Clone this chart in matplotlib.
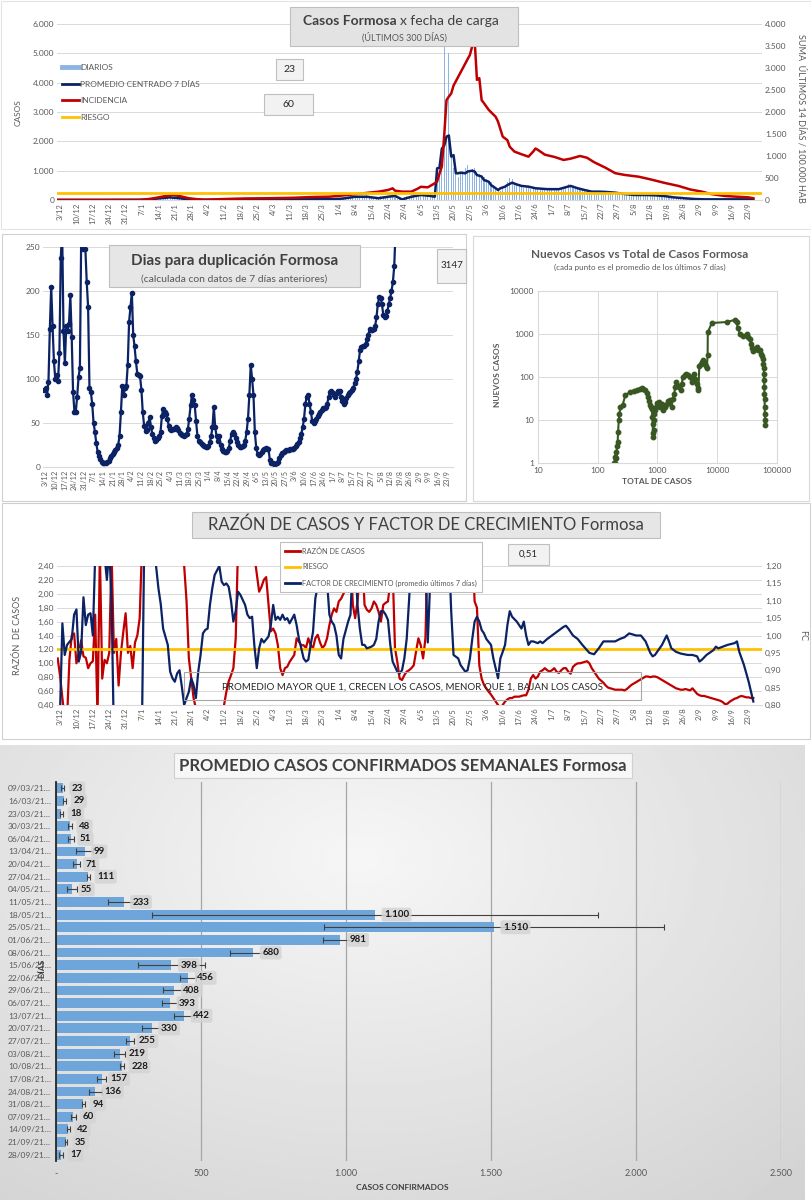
import datetime as dt
import numpy as np
import matplotlib
matplotlib.use("Agg")
import matplotlib.pyplot as plt
from matplotlib.patches import Rectangle
from matplotlib.lines import Line2D

plt.rcParams['font.family'] = ['Lato', 'DejaVu Sans']

# ---------------- DATA ----------------
START = dt.date(2020, 12, 2)          # día 0
TICK_DIAS = list(range(1, 296, 7))    # 3/12 ... 23/9

DIARIOS = [3,2,4,5,3,2,6,4,3,5, 2,3,4,6,5,3,2,4,3,5, 4,2,3,5,6,4,3,2,5,4,
           3,6,8,5,4,10,15,20,25,30,
           40,55,60,75,80,95,90,110,100,85,90,70,60,45,30,25,20,15,12,10,
           8,10,12,9,11,14,10,13,15,12, 14,16,13,15,18,14,16,19,15,17,
           18,20,16,22,19,17,21,24,20,18, 22,25,21,19,24,26,22,28,25,23,
           26,30,24,28,32,27,30,35,29,33, 38,31,36,40,34,42,45,38,48,52,
           60,75,90,110,130,120,105,115,140,100, 95,120,280,110,70,50,60,90,130,150,
           120,110,160,140,100,30,20,25,100,130, 150,170,190,160,140,170,180,200,150,130,
           120,110,
           1100,1200,1500,5300,2100,5000,1500,1100,1000,800, 900,1000,1100,1200,1000,1050,1100,950,900,
           850,800,700,650,600,500,400,350,300,450, 500,600,750,700,550,500,480,450,420,460, 400,380,420,400,
           420,400,380,350,370,390,360,380,400,350, 370,420,480,550,500,450,420,400,380,350,
           330,300,290,280,300,270,260,280,270,250, 240,260,250,230,220,200,
           210,200,190,180,170,175,180,165,170,160, 165,170,155,150,160,140,130,135,120,110,
           100,95,90,80,70,65,60,50,45,40,
           38,35,30,28,26,25,24,22,23,25, 20,22,24,21,23,20,22,25,21,20, 23,22,20,19,21,20,23]

PROMEDIO = [(0,5),(20,5),(36,10),(40,30),(44,60),(48,90),(52,60),(56,20),(60,10),(70,10),(80,15),
            (90,15),(100,20),(110,30),(118,30),(122,50),(127,110),(132,110),(137,60),(141,110),
            (144,140),(147,20),(151,110),(155,170),(159,140),(161,110),(162,1080),(163,1100),
            (164,1750),(165,1850),(166,2160),(167,2200),(168,1480),(169,1530),(170,910),(171,910),
            (172,930),(174,910),(175,970),(177,1000),(178,970),(179,850),(181,800),(182,680),
            (184,625),(185,510),(187,400),(188,340),(189,400),(191,455),(192,510),(194,590),
            (196,530),(198,480),(201,455),(204,400),(209,370),(214,370),(218,460),(219,480),
            (222,400),(225,340),(228,285),(231,285),(234,275),(238,250),(242,205),(246,170),
            (251,170),(255,160),(259,135),(263,90),(268,57),(272,34),(276,23),(283,23),(290,23),(297,23)]

INCIDENCIA = [(0,0),(35,0),(40,30),(45,80),(49,115),(52,90),(56,40),(60,15),(63,5),(70,20),(80,35),
              (90,40),(100,50),(110,70),(116,75),(124,114),(133,167),(137,190),(141,227),(143,265),
              (144,212),(147,190),(151,190),(154,265),(155,300),(158,288),(161,380),(162,420),
              (163,600),(164,760),(165,1450),(166,2270),(167,2350),(168,2420),(169,2600),(171,2800),
              (173,3000),(174,3100),(176,3300),(177,3500),(178,3650),(179,2730),(180,2770),(181,2270),
              (182,2200),(184,2050),(187,1890),(188,1780),(190,1440),(192,1360),(193,1210),(195,1100),
              (198,1040),(201,985),(203,1100),(204,1170),(205,1140),(208,1030),(212,980),(216,910),
              (219,940),(223,1000),(226,960),(229,860),(234,730),(238,610),(242,570),(248,530),
              (253,470),(259,390),(265,320),(270,240),(275,190),(279,135),(285,90),(290,75),(295,60),(297,40)]
RIESGO_INC = 150

DUPLICACION = [88,90,82,97,157,205,160,120,100,104, 98,130,237,270,155,118,160,155,162,195,
               148,85,63,63,80,102,113,270,248,270, 248,210,182,90,85,72,50,40,27,17,
               12,9,6,5,5,5,6,7,10,12, 15,17,19,22,25,35,62,92,82,90,
               92,116,165,182,198,150,137,120,106,104, 103,88,62,47,41,42,50,57,45,38,
               33,29,31,33,35,40,58,66,62,60, 55,47,43,42,43,43,45,44,42,39,
               38,36,35,36,38,43,55,70,82,76, 70,52,35,30,28,26,25,24,23,23,
               24,28,35,45,68,45,35,30,35,25, 20,18,17,17,18,22,30,38,40,38,
               33,28,25,23,23,24,25,30,40,55, 82,116,100,82,40,22,15,14,15,17,
               19,20,22,21,20,8,5,4,3,3, 4,6,10,14,16,17,18,19,19,19,
               20,20,21,22,24,26,28,33,38,45, 55,72,80,82,72,63,52,50,52,55,
               58,60,63,65,67,67,68,72,80,85, 86,84,82,80,84,86,86,80,75,72,
               74,78,82,84,85,88,90,95,100,108, 120,133,136,137,137,140,145,150,157,156,
               156,157,160,170,185,193,192,185,173,170, 172,177,185,192,200,210,228,270]
DUPLICACION_HOY = "3147"

TOTAL_CASOS = [190,193,197,200,205,210,215,219,225,230,240,260,290,350,400,450,500,540,580,620,660,
               700,730,750,780,800,820,830,840,850,860,870,880,900,950,1000,1050,1100,1170,1250,1350,
               1420,1500,1620,1720,1800,1900,2000,2050,2150,2250,2450,2550,2650,2850,3050,3300,3500,
               3750,3900,4100,4300,4500,4700,4850,5000,5300,5500,5800,6000,6200,6500,6700,6900,6950,
               8100,14500,20000,21000,22000,24000,27000,31000,33000,35000,37000,38000,39000,41000,
               44000,47000,49000,52000,55000,57000,58000,59000,60000,60500,61000,61300,61600,62000,
               62300,62600,62800,63000]
NUEVOS_CASOS = [1.0,1.4,1.0,1.8,1.3,2.5,3.0,5.3,10,14,20,22,38,45,47,51,54,55,52,49,42,
                34,28,22,20,18,12,8,5,4,6,10,14,17,20,25,26,20,24,17,20,
                24,27,29,20,30,41,60,77,65,59,49,70,100,110,120,110,100,
                77,95,120,90,70,55,50,180,206,226,250,220,206,180,160,330,1100,
                1800,1900,2150,1900,1400,1000,900,1000,850,750,600,480,400,450,
                460,490,430,420,350,300,260,200,160,120,84,60,40,30,
                20,14,10,7.5]

RAZON = [(0,1.07),(1,0.82),(2,0.50),(3,0.20),(4,0.20),(5,1.05),(6,1.40),(7,1.43),(8,1.00),(9,1.15),
         (10,1.33),(11,1.10),(12,1.08),(13,0.93),(14,1.00),(15,1.03),(16,1.70),(17,0.20),(18,2.60),
         (19,0.78),(20,1.05),(21,1.00),(22,1.15),(23,2.60),(24,1.15),(25,1.35),(26,0.68),(27,1.15),
         (28,1.45),(29,1.72),(30,1.15),(31,1.25),(32,0.93),(33,1.30),(34,1.40),(35,1.65),(36,2.70),
         (40,3.5),(45,4.0),(50,3.5),(53,2.7),(54,2.4),(55,1.9),(56,1.07),(57,0.78),(58,0.50),(60,0.20),
         (65,0.10),(70,0.20),(72,0.59),(73,0.74),(74,0.83),(75,0.93),(76,1.36),(77,2.7),(80,3.5),
         (83,2.8),(86,2.03),(87,2.10),(88,2.20),(89,2.24),(90,1.85),(91,1.46),(92,1.50),(93,1.43),
         (94,1.26),(95,0.93),(96,0.83),(97,0.93),(98,0.95),(99,1.02),(100,1.07),(101,1.12),(102,1.36),
         (103,1.31),(104,1.26),(105,1.26),(106,1.22),(107,1.36),(108,1.26),(109,1.22),(110,1.36),
         (111,1.41),(112,1.30),(113,1.22),(114,1.26),(115,1.36),(116,1.55),(117,1.70),(118,1.79),
         (119,1.74),(120,1.89),(121,1.93),(122,2.00),(123,2.08),(124,2.6),(125,2.6),(126,1.84),
         (127,1.65),(128,1.89),(129,2.30),(130,2.6),(131,1.84),(132,1.77),(133,1.74),(134,1.79),
         (135,1.89),(136,1.84),(137,1.74),(138,1.60),(139,1.84),(140,1.87),(141,1.89),(142,2.17),
         (143,2.36),(144,1.22),(145,1.02),(146,0.78),(147,0.76),(148,0.83),(149,0.88),(150,0.90),
         (151,0.93),(152,0.97),(153,1.17),(154,1.36),(155,1.26),(156,1.07),(157,1.36),(158,2.7),
         (162,4.0),(167,5.0),(172,4.0),(176,3.0),(177,2.7),(178,1.89),(179,1.80),(180,0.97)]
RAZON_DESDE_181 = [0.78,0.69,0.64,0.59,0.55,0.50,0.45,0.40,0.36,0.40,
                   0.45,0.48,0.50,0.50,0.52,0.52,0.52,0.53,0.54,0.54,
                   0.62,0.78,0.83,0.78,0.81,0.88,0.90,0.93,0.90,0.88,
                   0.90,0.93,0.88,0.86,0.90,0.93,0.93,0.88,0.85,0.95,
                   0.98,1.00,1.00,1.01,1.02,1.03,1.00,0.93,0.88,0.83,
                   0.78,0.75,0.72,0.68,0.65,0.64,0.63,0.62,0.62,0.62,
                   0.62,0.61,0.63,0.66,0.69,0.71,0.73,0.75,0.77,0.79,
                   0.81,0.81,0.80,0.81,0.81,0.80,0.78,0.76,0.74,0.72,
                   0.70,0.68,0.66,0.64,0.63,0.62,0.62,0.63,0.62,0.61,
                   0.64,0.60,0.56,0.54,0.53,0.53,0.52,0.51,0.50,0.49,
                   0.48,0.47,0.46,0.44,0.41,0.42,0.45,0.47,0.49,0.50,
                   0.52,0.53,0.52,0.51,0.51,0.50,0.50]
RIESGO_RAZON = 1.20
RAZON_HOY = "0,51"

FACTOR = [(1,0.78),(2,1.035),(3,0.944),(4,0.973),(6,0.99),(7,1.06),(8,1.075),(9,0.925),(10,0.953),
          (11,1.11),(12,1.03),(13,1.06),(14,1.064),(15,1.0),(16,1.23),(17,1.25),(19,1.30),(21,1.16),
          (22,1.25),(23,1.10),(24,0.70),(30,0.70),(36,0.75),(37,1.30),(42,1.2),(43,1.136),(44,1.09),
          (45,1.02),(47,0.973),(48,0.896),(49,0.877),(50,0.867),(51,0.891),(52,0.90),(53,0.853),
          (54,0.80),(55,0.82),(56,0.838),(57,0.877),(58,0.858),(59,0.82),(60,0.896),(61,0.944),
          (62,1.006),(63,1.016),(64,1.02),(65,1.088),(66,1.136),(67,1.174),(69,1.2),(70,1.155),
          (71,1.145),(72,1.15),(73,1.14),(74,1.10),(75,1.04),(76,1.07),(77,1.126),(78,1.117),
          (80,1.088),(81,1.06),(82,1.05),(83,1.054),(84,0.968),(85,0.906),(86,0.963),(87,0.99),
          (88,0.98),(90,0.997),(91,1.03),(92,1.088),(93,1.045),(94,1.054),(95,1.045),(96,1.06),
          (97,1.045),(98,1.05),(99,1.035),(101,1.06),(102,1.03),(103,0.99),(104,0.963),(105,0.934),
          (106,0.925),(107,0.93),(108,0.973),(109,1.01),(110,1.107),(112,1.174),(113,1.22),(114,1.22),
          (115,1.155),(116,1.06),(117,1.04),(118,1.03),(119,1.0),(120,0.944),(121,0.934),(122,0.99),
          (124,1.04),(125,1.06),(126,1.22),(127,1.22),(128,1.088),(129,1.02),(130,0.973),(131,0.973),
          (132,0.963),(134,0.968),(135,0.973),(136,0.99),(137,1.04),(138,1.07),(139,1.07),(140,1.06),
          (141,1.045),(142,0.973),(143,0.925),(145,0.896),(146,0.891),(147,0.90),(148,0.934),
          (149,0.99),(150,1.10),(151,1.22),(154,1.25),(157,1.2),(158,0.98),(159,1.15),(160,1.25),
          (167,1.25),(168,1.07),(169,0.944),(171,0.934),(172,0.915),(174,0.896),(175,0.90),(176,0.934),
          (177,0.99),(178,1.04),(179,1.054),(180,1.04),(181,1.016),(182,1.006),(183,0.99),(185,0.973),
          (186,0.934),(187,0.906),(188,0.877),(189,0.934),(190,0.953),(191,0.973),(192,1.03),
          (193,1.07),(194,1.054),(196,1.04),(197,1.03),(198,1.02),(199,1.04),(200,1.0),(201,0.973),
          (202,0.983),(203,0.983),(205,0.978),(206,0.983),(207,0.978),(209,0.99),(211,1.0),(213,1.01),
          (216,1.025),(217,1.028),(218,1.02),(220,1.0),(222,0.99),(224,0.973),(227,0.95),(229,0.946),
          (231,0.963),(233,0.983),(235,0.983),(238,0.983),(240,0.99),(242,0.995),(244,1.006),
          (247,1.0),(249,1.0),(251,0.983),(253,0.95),(254,0.94),(255,0.944),(258,0.973),(260,1.0),
          (261,0.983),(262,0.963),(264,0.953),(266,0.948),(269,0.944),(271,0.944),(273,0.94),
          (274,0.925),(275,0.93),(277,0.944),(280,0.958),(281,0.968),(282,0.963),(284,0.968),
          (286,0.973),(289,0.978),(290,0.983),(291,0.953),(293,0.915),(295,0.867),(297,0.81)]

SEMANAS = ['09/03/21','16/03/21','23/03/21','30/03/21','06/04/21','13/04/21','20/04/21','27/04/21',
           '04/05/21','11/05/21','18/05/21','25/05/21','01/06/21','08/06/21','15/06/21','22/06/21',
           '29/06/21','06/07/21','13/07/21','20/07/21','27/07/21','03/08/21','10/08/21','17/08/21',
           '24/08/21','31/08/21','07/09/21','14/09/21','21/09/21','28/09/21']
PROM_SEMANAL = [23,29,18,48,51,99,71,111,55,233,1100,1510,981,680,398,456,408,393,442,330,
                255,219,228,157,136,94,60,42,35,17]
ERROR_SEMANAL = [6,6,5,8,11,29,13,5,17,55,770,587,60,80,115,28,39,28,35,34,
                 14,20,8,17,23,6,10,5,4,7]

# ---------------- STYLE / HELPERS ----------------
W, H = 812, 1200
GRIS = '#595959'
OSCURO = '#404040'
GRID = '#d9d9d9'
NAVY = '#0b2265'
ROJO = '#c00000'
ORO = '#ffc000'
CELESTE = '#8db4e2'
VERDE = '#385723'

fig = plt.figure(figsize=(W / 100, H / 100), dpi=100)
fig.patch.set_facecolor('white')


def axbox(x0, y0, x1, y1):
    return fig.add_axes([x0 / W, 1 - y1 / H, (x1 - x0) / W, (y1 - y0) / H])


def box(x0, y0, x1, y1, fc, ec, lw=0.8, z=5):
    r = Rectangle((x0 / W, 1 - y1 / H), (x1 - x0) / W, (y1 - y0) / H,
                  transform=fig.transFigure, facecolor=fc, edgecolor=ec, lw=lw, zorder=z)
    fig.add_artist(r)


def ftext(x, y, s, **kw):
    kw.setdefault('ha', 'center')
    kw.setdefault('va', 'center')
    kw.setdefault('zorder', 10)
    kw.setdefault('color', OSCURO)
    fig.text(x / W, 1 - y / H, s, **kw)


def miles(v):
    return f"{v:,.0f}".replace(',', '.')


def coma(v, n=2):
    return f"{v:.{n}f}".replace('.', ',')


def etiqueta_fecha(d):
    f = START + dt.timedelta(days=d)
    return f"{f.day}/{f.month}"


def estilo(ax, fs=6):
    for s in ['top', 'left', 'right']:
        ax.spines[s].set_visible(False)
    ax.spines['bottom'].set_color(GRID)
    ax.tick_params(axis='both', length=0, labelsize=fs, colors=GRIS, pad=2)


def eje_fechas(ax, fs):
    ax.set_xticks(TICK_DIAS)
    ax.set_xticklabels([etiqueta_fecha(d) for d in TICK_DIAS], rotation=90, fontsize=fs, color=GRIS)


def split(pares):
    return [p[0] for p in pares], [p[1] for p in pares]


# ---------------- PANEL A: casos diarios ----------------
box(1, 1, 811, 229, 'none', '#e4e4e4', z=1)
axA = axbox(57, 24, 762, 200)
dias = np.arange(len(DIARIOS))
axA.bar(dias, DIARIOS, width=0.45, color=CELESTE, zorder=2)
px, py = split(PROMEDIO)
axA.plot(px, py, color=NAVY, lw=1.8, zorder=4)
axA.set_xlim(-0.3, 300.7)
axA.set_ylim(0, 6000)
axA.set_yticks(range(0, 6001, 1000))
axA.set_yticklabels([miles(v) for v in range(0, 6001, 1000)])
axA.grid(axis='y', color=GRID, lw=0.7)
axA.set_axisbelow(True)
estilo(axA)
eje_fechas(axA, 5.5)

axA2 = axA.twinx()
ix, iy = split(INCIDENCIA)
axA2.plot(ix, iy, color=ROJO, lw=1.8, zorder=3)
axA2.axhline(RIESGO_INC, color=ORO, lw=2.0, zorder=4)
axA2.set_ylim(0, 4000)
axA2.set_yticks(range(0, 4001, 500))
axA2.set_yticklabels([miles(v) for v in range(0, 4001, 500)])
estilo(axA2)
axA2.spines['bottom'].set_visible(False)

hA = [Line2D([], [], color=CELESTE, lw=3.5), Line2D([], [], color=NAVY, lw=2),
      Line2D([], [], color=ROJO, lw=2), Line2D([], [], color=ORO, lw=2)]
axA2.legend(hA, ['DIARIOS', 'PROMEDIO CENTRADO 7 DÍAS', 'INCIDENCIA', 'RIESGO'],
            loc='upper left', bbox_to_anchor=(62 / W, 1 - 64 / H), bbox_transform=fig.transFigure,
            frameon=False, fontsize=6, labelcolor=GRIS, handlelength=2.0, handletextpad=0.2,
            labelspacing=1.15, borderaxespad=0, borderpad=0)

ftext(18, 113, 'CASOS', rotation=90, fontsize=6, color=GRIS)
ftext(801, 118, 'SUMA  ÚLTIMOS 14 DÍAS / 100.000 HAB', rotation=270, fontsize=6.5, color=GRIS)
box(290, 7, 518, 46, '#e3e3e3', '#bfbfbf')
ftext(397, 21, 'Casos Formosa', ha='right', fontsize=10, fontweight='bold')
ftext(400, 21, 'x fecha de carga', ha='left', fontsize=10)
ftext(404, 37, '(ÚLTIMOS 300 DÍAS)', fontsize=6.5, color=GRIS)
box(276, 59, 303, 80, '#f2f2f2', '#bfbfbf')
ftext(289.5, 69.5, '23', fontsize=7.5, color='#262626')
box(264, 94, 313, 115, '#f2f2f2', '#bfbfbf')
ftext(288.5, 104.5, '60', fontsize=7.5, color='#262626')

# ---------------- PANEL B: días para duplicación ----------------
box(2, 234, 466, 501, 'none', '#d0d0d0', z=1)
axB = axbox(43, 247, 453, 467)
axB.plot(np.arange(len(DUPLICACION)), DUPLICACION, color=NAVY, lw=1.6, marker='o', ms=3.0)
axB.set_xlim(-1, 299)
axB.set_ylim(0, 250)
axB.set_yticks(range(0, 251, 50))
axB.grid(axis='y', color=GRID, lw=0.7)
axB.set_axisbelow(True)
estilo(axB)
eje_fechas(axB, 5.2)
box(109, 245, 360, 287, '#e6e6e6', '#bfbfbf')
ftext(234.5, 261, 'Dias para duplicación Formosa', fontsize=11, fontweight='bold')
ftext(234.5, 279, '(calculada con datos de 7 días anteriores)', fontsize=7.5, color=GRIS)
box(437, 249, 466, 283, '#f2f2f2', '#bfbfbf')
ftext(451.5, 266, DUPLICACION_HOY, fontsize=7, color='#262626')

# ---------------- PANEL C: nuevos vs total ----------------
box(473, 236, 809, 501, 'none', '#d9d9d9', z=1)
axC = axbox(538, 291, 777, 463)
axC.plot(TOTAL_CASOS, NUEVOS_CASOS, color=VERDE, lw=1.5, marker='o', ms=3.2)
axC.set_xscale('log')
axC.set_yscale('log')
axC.set_xlim(10, 100000)
axC.set_ylim(1, 10000)
xt = [10, 100, 1000, 10000, 100000]
yt = [1, 10, 100, 1000, 10000]
axC.set_xticks(xt)
axC.set_xticklabels([str(v) for v in xt])
axC.set_yticks(yt)
axC.set_yticklabels([str(v) for v in yt])
axC.minorticks_off()
axC.grid(True, color=GRID, lw=0.7)
axC.set_axisbelow(True)
for s in axC.spines.values():
    s.set_color(GRID)
axC.tick_params(axis='both', length=0, labelsize=6, colors=GRIS, pad=3)
ftext(640, 254, 'Nuevos Casos vs Total de Casos Formosa', fontsize=8.5, fontweight='bold', color=GRIS)
ftext(640, 267, '(cada punto es el promedio de los últimos 7 días)', fontsize=5.8, color=GRIS)
ftext(657, 482, 'TOTAL DE CASOS', fontsize=6, fontweight='bold', color=GRIS)
ftext(498, 375, 'NUEVOS CASOS', fontsize=6, fontweight='bold', color=GRIS, rotation=90)

# ---------------- PANEL D: razón y factor ----------------
box(2, 503, 810, 739, 'none', '#d0d0d0', z=1)
axD = axbox(57, 566, 762, 705)
rx, ry = split(RAZON)
rx = rx + list(range(181, 181 + len(RAZON_DESDE_181)))
ry = ry + RAZON_DESDE_181
axD.plot(rx, ry, color=ROJO, lw=1.6, zorder=3)
axD.axhline(RIESGO_RAZON, color=ORO, lw=2.0, zorder=4)
axD.set_xlim(-0.3, 300.7)
axD.set_ylim(0.4, 2.4)
lt = np.round(np.arange(0.4, 2.41, 0.2), 2)
axD.set_yticks(lt)
axD.set_yticklabels([coma(v) for v in lt])
axD.grid(axis='y', color=GRID, lw=0.7)
axD.set_axisbelow(True)
estilo(axD)
eje_fechas(axD, 5.5)

axD2 = axD.twinx()
fx_, fy_ = split(FACTOR)
axD2.plot(fx_, fy_, color=NAVY, lw=1.6, zorder=3)
axD2.set_ylim(0.8, 1.2)
rt = np.round(np.arange(0.8, 1.201, 0.05), 2)
axD2.set_yticks(rt)
axD2.set_yticklabels([coma(v) for v in rt])
estilo(axD2)
axD2.spines['bottom'].set_visible(False)
hD = [Line2D([], [], color=ROJO, lw=2), Line2D([], [], color=ORO, lw=2), Line2D([], [], color=NAVY, lw=2)]
legD = axD2.legend(hD, ['RAZÓN DE CASOS', 'RIESGO', 'FACTOR DE CRECIMIENTO (promedio últimos 7 días)'],
                   loc='upper left', bbox_to_anchor=(280 / W, 1 - 542 / H), bbox_transform=fig.transFigure,
                   frameon=True, fancybox=False, edgecolor='#bfbfbf', framealpha=1, fontsize=5.3,
                   labelcolor=GRIS, handlelength=2.0, handletextpad=0.3, labelspacing=1.2,
                   borderaxespad=0, borderpad=0.7)
legD.get_frame().set_linewidth(0.8)

box(192, 512, 660, 538, '#e6e6e6', '#bfbfbf')
ftext(426, 525, 'RAZÓN DE CASOS Y FACTOR DE CRECIMIENTO Formosa', fontsize=12)
box(508, 544, 549, 565, '#f2f2f2', '#bfbfbf')
ftext(528.5, 554.5, RAZON_HOY, fontsize=7, color='#262626')
box(184, 672, 641, 700, 'none', '#a6a6a6')
ftext(412, 687, 'PROMEDIO MAYOR QUE 1, CRECEN LOS CASOS, MENOR QUE 1, BAJAN LOS CASOS',
      fontsize=7, color='#262626')
ftext(18, 635, 'RAZÓN  DE CASOS', rotation=90, fontsize=6.5, color=GRIS)
ftext(803, 635, 'FC', rotation=270, fontsize=6.5, color=GRIS)

# ---------------- PANEL E: promedios semanales ----------------
bg = axbox(0, 745, 805, 1200)
bg.set_zorder(-1)
gy, gx = np.mgrid[0:1:200j, 0:1:200j]
grad = 0.965 - 0.17 * np.sqrt((gx - 0.45) ** 2 + ((gy - 0.25) / 1.2) ** 2)
bg.imshow(grad, cmap='gray', vmin=0, vmax=1, aspect='auto', extent=(0, 1, 1, 0))
bg.axis('off')

axE = axbox(56, 782, 781, 1161)
axE.patch.set_alpha(0)
pos = np.arange(len(SEMANAS))
axE.barh(pos, PROM_SEMANAL, height=0.78, color='#6ea6dc', zorder=2,
         xerr=ERROR_SEMANAL, error_kw=dict(ecolor='#404040', elinewidth=0.8, capsize=2, capthick=0.8))
axE.set_ylim(len(SEMANAS) - 0.5, -0.5)
axE.set_xlim(0, 2500)
xtE = list(range(0, 2501, 500))
axE.set_xticks(xtE)
axE.set_xticklabels(['-'] + [miles(v) for v in xtE[1:]])
axE.set_yticks(pos)
axE.set_yticklabels([s + '…' for s in SEMANAS])
axE.grid(axis='x', color='#a6a6a6', lw=0.9)
axE.set_axisbelow(True)
for s in ['top', 'right', 'bottom']:
    axE.spines[s].set_visible(False)
axE.spines['left'].set_color('#262626')
axE.spines['left'].set_linewidth(1.3)
axE.tick_params(axis='both', length=0, labelsize=6, colors=GRIS)
axE.tick_params(axis='x', pad=6, labelsize=6.5)
for i, v in enumerate(PROM_SEMANAL):
    axE.annotate(miles(v), (v, i), xytext=(9, 0), textcoords='offset pixels', ha='left', va='center',
                 fontsize=7, fontweight='bold', color='#1a1a1a', zorder=6,
                 bbox=dict(boxstyle='round,pad=0.25', fc='#d4d4d4', ec='none', alpha=0.85))

box(174, 753, 632, 778, '#f7f7f7', '#d0d0d0')
ftext(403, 766, 'PROMEDIO CASOS CONFIRMADOS SEMANALES Formosa', fontsize=12, fontweight='bold')
ftext(402, 1187, 'CASOS CONFIRMADOS', fontsize=6, fontweight='bold')
ftext(42, 968, 'DÍAS', rotation=90, fontsize=6, fontweight='bold')

fig.savefig('out.png', dpi=100)
